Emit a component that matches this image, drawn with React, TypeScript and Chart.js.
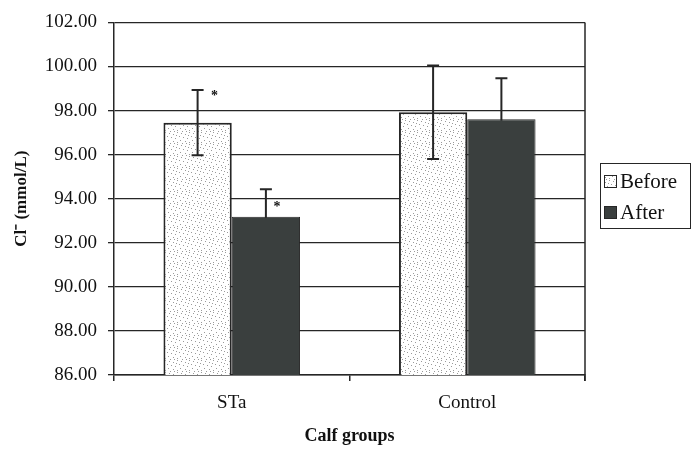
import React, { useEffect, useRef } from "react";
import { Chart, registerables } from "chart.js";

Chart.register(...registerables);

const categories = ["STa", "Control"];
const seriesNames = ["Before", "After"];
const beforeValues = [97.45, 97.92];
const afterValues = [93.18, 97.6];
const beforeErrors = [1.48, 2.12];
const afterErrors = [1.25, 1.87];
const yTicks = [86, 88, 90, 92, 94, 96, 98, 100, 102];
const significant = [[true, true], [false, false]]; // [category][series]

const SERIF = "'Liberation Serif', 'Times New Roman', serif";
const DARK = "#3a3f3e";
const EDGE = "#262626";
// asterisk offsets relative to the top cap of the error bar, per series
const starOffsets = [
  [17, 6],
  [11, 18],
];

function makeDotPattern(): CanvasPattern | string {
  const c = document.createElement("canvas");
  c.width = 12;
  c.height = 12;
  const ctx = c.getContext("2d");
  if (!ctx) return "#f2f2f2";
  ctx.fillStyle = "#ffffff";
  ctx.fillRect(0, 0, 12, 12);
  ctx.fillStyle = "#9a9a9a";
  const dots = [
    [1, 1], [5, 2], [9, 0], [3, 5], [7, 6], [11, 4], [0, 8], [5, 9], [9, 10], [2, 11], [8, 3], [6, 11],
  ];
  dots.forEach(([x, y]) => ctx.fillRect(x, y, 1, 1));
  const p = ctx.createPattern(c, "repeat");
  return p || "#f2f2f2";
}

function drawErrors(chart: any, d: number) {
  const ctx = chart.ctx;
  const y = chart.scales.y;
  const errs = [beforeErrors, afterErrors];
  const vals = [beforeValues, afterValues];
  const meta = chart.getDatasetMeta(d);
  ctx.save();
  ctx.lineWidth = 2;
  ctx.strokeStyle = EDGE;
  meta.data.forEach((bar: any, i: number) => {
    const x = bar.x;
    const top = y.getPixelForValue(vals[d][i] + errs[d][i]);
    const bot = y.getPixelForValue(vals[d][i] - errs[d][i]);
    ctx.beginPath();
    ctx.moveTo(x, top);
    ctx.lineTo(x, bot);
    ctx.moveTo(x - 6, top);
    ctx.lineTo(x + 6, top);
    ctx.moveTo(x - 6, bot);
    ctx.lineTo(x + 6, bot);
    ctx.stroke();
    if (significant[i][d]) {
      ctx.fillStyle = "#111";
      ctx.font = `bold 14px ${SERIF}`;
      ctx.textAlign = "center";
      ctx.textBaseline = "middle";
      ctx.fillText("*", x + starOffsets[d][0], top + starOffsets[d][1]);
    }
  });
  ctx.restore();
}

const overlayPlugin = {
  id: "overlay",
  beforeDatasetsDraw(chart: any) {
    // "After" error bars sit behind the dark bars
    drawErrors(chart, 1);
  },
  afterDatasetsDraw(chart: any) {
    const ctx = chart.ctx;
    const area = chart.chartArea;
    drawErrors(chart, 0);
    ctx.save();
    ctx.strokeStyle = EDGE;
    ctx.lineWidth = 1.5;
    ctx.beginPath();
    ctx.moveTo(area.right, area.top);
    ctx.lineTo(area.right, area.bottom + 6);
    ctx.stroke();

    // legend
    const lx = 600, ly = 163, lw = 91, lh = 66;
    ctx.fillStyle = "#ffffff";
    ctx.fillRect(lx, ly, lw, lh);
    ctx.strokeStyle = EDGE;
    ctx.lineWidth = 1;
    ctx.strokeRect(lx + 0.5, ly + 0.5, lw - 1, lh - 1);
    const fills = [chart.data.datasets[0].backgroundColor, DARK];
    seriesNames.forEach((name, k) => {
      const cy = ly + 18 + k * 31;
      ctx.fillStyle = fills[k];
      ctx.fillRect(lx + 4, cy - 6, 13, 13);
      ctx.strokeStyle = EDGE;
      ctx.lineWidth = 1;
      ctx.strokeRect(lx + 4.5, cy - 5.5, 12, 12);
      ctx.fillStyle = "#111";
      ctx.font = `21px ${SERIF}`;
      ctx.textAlign = "left";
      ctx.textBaseline = "middle";
      ctx.fillText(name, lx + 20, cy + 1);
    });
    ctx.restore();
  },
};

export default function App() {
  const ref = useRef<HTMLCanvasElement | null>(null);
  useEffect(() => {
    document.body.style.margin = "0";
    const canvas = ref.current;
    if (!canvas) return;
    const pattern = makeDotPattern();
    const chart = new Chart(canvas, {
      type: "bar",
      data: {
        labels: categories,
        datasets: [
          {
            label: seriesNames[0],
            data: beforeValues,
            backgroundColor: pattern as any,
            borderColor: EDGE,
            borderWidth: 2,
            borderSkipped: "bottom",
            categoryPercentage: 0.58,
            barPercentage: 1,
          },
          {
            label: seriesNames[1],
            data: afterValues,
            backgroundColor: DARK,
            borderColor: EDGE,
            borderWidth: 1,
            borderSkipped: "bottom",
            categoryPercentage: 0.58,
            barPercentage: 1,
          },
        ],
      },
      options: {
        responsive: false,
        animation: false,
        events: [],
        layout: { padding: { top: 16, right: 106, left: 0, bottom: 0 } },
        plugins: {
          legend: { display: false },
          tooltip: { enabled: false },
        },
        scales: {
          x: {
            grid: {
              display: true,
              drawOnChartArea: false,
              drawTicks: true,
              tickLength: 6,
              color: EDGE,
              lineWidth: 1.5,
              offset: true,
            },
            border: { display: true, color: EDGE, width: 1.5 },
            ticks: {
              color: "#111",
              font: { family: SERIF, size: 19 },
              padding: 11,
            },
            title: {
              display: true,
              text: "Calf groups",
              color: "#111",
              font: { family: SERIF, size: 18, weight: "bold" },
              padding: { top: 0, bottom: 5 },
            },
            afterFit: (s: any) => {
              s.height = 77;
            },
          },
          y: {
            min: 86,
            max: 102,
            afterBuildTicks: (s: any) => {
              s.ticks = yTicks.map((v) => ({ value: v }));
            },
            grid: {
              color: EDGE,
              lineWidth: 1.3,
              tickLength: 6,
              drawTicks: true,
            },
            border: { display: true, color: EDGE, width: 1.5 },
            ticks: {
              color: "#111",
              font: { family: SERIF, size: 19 },
              padding: 11,
              callback: (v: any) => Number(v).toFixed(2),
            },
            title: {
              display: true,
              text: "Cl⁻ (mmol/L)",
              color: "#111",
              font: { family: SERIF, size: 17, weight: "bold" },
              padding: { top: 11, bottom: 0 },
            },
            afterFit: (s: any) => {
              s.width = 114;
            },
          },
        },
      },
      plugins: [overlayPlugin],
    });
    return () => chart.destroy();
  }, []);
  return (
    <div style={{ width: 691, height: 452, background: "#fff" }}>
      <canvas ref={ref} width={691} height={452} style={{ display: "block" }} />
    </div>
  );
}
